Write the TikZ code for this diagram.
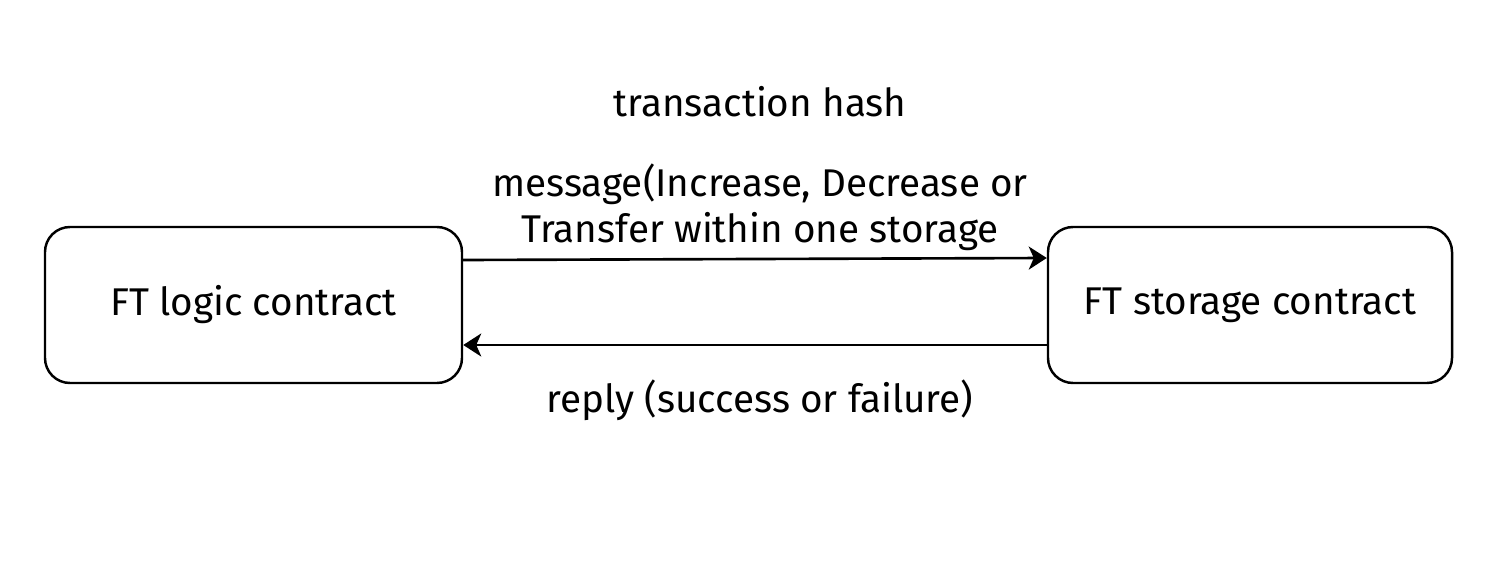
\documentclass[tikz,border=0pt]{standalone}
\usepackage{fontspec}
\setmainfont{Fira Sans}
\usetikzlibrary{arrows.meta, positioning}

\begin{document}
\begin{tikzpicture}[
    contract/.style={draw, line width=1.4pt, rounded corners=0.5cm, align=center, font=\fontsize{22}{26}\selectfont},
    msg/.style={align=center, font=\fontsize{22}{26}\selectfont},
    flow/.style={-{Stealth[length=0.36cm, width=0.46cm, inset=0.1cm]}, line width=1.5pt}
]
    % page frame
    \useasboundingbox (0,0) rectangle (30,11.22);

    % Contracts
    \node[contract, minimum width=8.34cm, minimum height=3.12cm] (logic) at (5.07,5.12) {FT logic contract};
    \node[contract, minimum width=8.08cm, minimum height=3.12cm] (storage) at (25.0,5.12) {FT storage contract};

    % Messages
    \draw[flow] ([yshift=0.9cm]logic.east) -- ([yshift=0.94cm]storage.west);
    \draw[flow] ([yshift=-0.8cm]storage.west) -- ([yshift=-0.8cm]logic.east);

    % Labels
    \node[msg] (hash) at (15.2,9.18) {transaction hash};
    \node[msg] (request) at (15.2,7.08) {message(Increase, Decrease or\\Transfer within one storage};
    \node[msg] (reply) at (15.2,3.22) {reply (success or failure)};
\end{tikzpicture}
\end{document}
